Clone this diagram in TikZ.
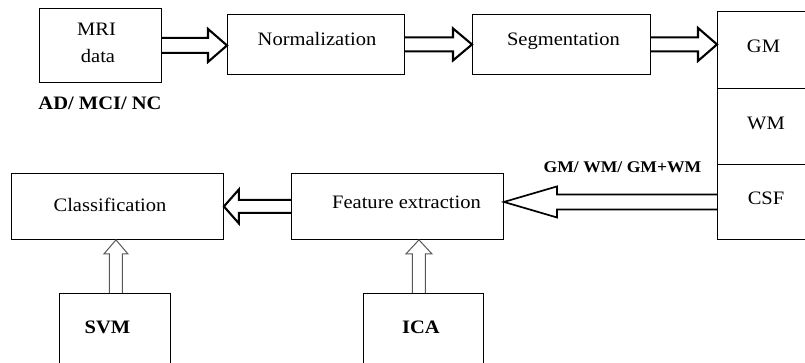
\documentclass[tikz,border=0pt]{standalone}
\usepackage{fontspec}
\setmainfont[FakeStretch=1.08]{Liberation Serif}
\usetikzlibrary{calc}
\newcommand\arrR[6][]{\draw[#1] let \p1=(#2), \p2=(#3) in (\x1,\y1+#4) -- (\x2-#6,\y1+#4) -- (\x2-#6,\y1+#5) -- (\x2,\y1) -- (\x2-#6,\y1-#5) -- (\x2-#6,\y1-#4) -- (\x1,\y1-#4);}
\newcommand\arrL[6][]{\draw[#1] let \p1=(#2), \p2=(#3) in (\x1,\y1+#4) -- (\x2+#6,\y1+#4) -- (\x2+#6,\y1+#5) -- (\x2,\y1) -- (\x2+#6,\y1-#5) -- (\x2+#6,\y1-#4) -- (\x1,\y1-#4);}
\newcommand\arrU[6][]{\draw[#1] let \p1=(#2), \p2=(#3) in (\x1+#4,\y1) -- (\x1+#4,\y2-#6) -- (\x1+#5,\y2-#6) -- (\x1,\y2) -- (\x1-#5,\y2-#6) -- (\x1-#4,\y2-#6) -- (\x1-#4,\y1);}
\begin{document}
\begin{tikzpicture}[x=1pt,y=-1pt,
  box/.style={draw, line width=0.9pt, inner sep=0pt, anchor=north west},
  txt/.style={anchor=base, inner sep=0pt, font=\fontsize{19}{23}\selectfont},
  btxt/.style={anchor=base, inner sep=0pt, font=\fontsize{19}{23}\selectfont\bfseries},
  thick arrow/.style={line width=2.1pt, line join=miter},
  mid arrow/.style={line width=1.7pt, line join=miter},
  thin arrow/.style={line width=1pt, draw=black!65}]
\clip (0,0) rectangle (805,363);
\fill[white] (0,0) rectangle (805,363);
% boxes
\node[box, minimum width=122pt, minimum height=74pt] (mri) at (39,8) {};
\node[box, minimum width=177pt, minimum height=60pt] (norm) at (227,14) {};
\node[box, minimum width=178pt, minimum height=60pt] (seg) at (472,14) {};
\node[box, minimum width=100pt, minimum height=77pt] (gm) at (717,11) {};
\node[box, minimum width=100pt, minimum height=76pt] (wm) at (717,88) {};
\node[box, minimum width=100pt, minimum height=75pt] (csf) at (717,164) {};
\node[box, minimum width=212pt, minimum height=66pt] (feat) at (291,173) {};
\node[box, minimum width=212pt, minimum height=66pt] (class) at (11,173) {};
\node[box, minimum width=111pt, minimum height=80pt] (svm) at (59,293) {};
\node[box, minimum width=120pt, minimum height=80pt] (ica) at (363,293) {};
% texts
\node[txt] (tmri) at (96.5,36) {MRI};
\node[txt] (tdata) at (98,63) {data};
\node[txt] (tnorm) at (317,46) {Normalization};
\node[txt] (tseg) at (563.5,46) {Segmentation};
\node[txt] (tgm) at (763.5,53) {GM};
\node[txt] (twm) at (766,130) {WM};
\node[txt] (tcsf) at (766,205) {CSF};
\node[txt] (tfeat) at (406.5,209) {Feature extraction};
\node[txt] (tclass) at (110,212) {Classification};
\node[btxt] (tsvm) at (107.5,333) {SVM};
\node[btxt] (tica) at (421,333) {ICA};
\node[btxt] (tad) at (100,110) {AD/ MCI/ NC};
\node[btxt, font=\fontsize{16.3}{20}\selectfont\bfseries] (tlab) at (622.5,173) {GM/ WM/ GM+WM};
% arrows
\arrR[thick arrow]{mri.east}{norm.west}{7.5pt}{16.5pt}{19pt}
\arrR[thick arrow]{norm.east}{seg.west}{7pt}{16pt}{19pt}
\arrR[thick arrow]{seg.east}{gm.west|-seg.east}{7pt}{16.5pt}{19pt}
\arrL[mid arrow]{csf.west}{feat.east|-csf.west}{7.5pt}{15.5pt}{53pt}
\arrL[thick arrow]{feat.west}{class.east}{6.5pt}{17pt}{15pt}
\arrU[thin arrow]{$(svm.north)+(1,0)$}{class.south}{6.5pt}{12pt}{14pt}
\arrU[thin arrow]{$(ica.north)+(-4.5,0)$}{feat.south}{6.5pt}{13pt}{14pt}
\end{tikzpicture}
\end{document}
